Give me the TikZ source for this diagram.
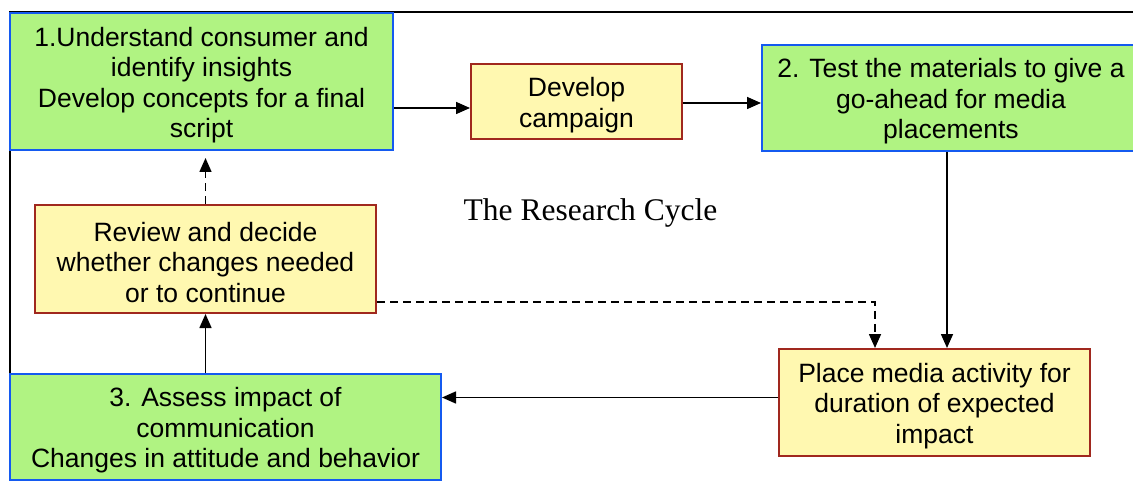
\documentclass[tikz,border=0pt]{standalone}
\usepackage{fontspec}
\setmainfont{Liberation Sans}
\newfontfamily\ttlfont{Liberation Serif}
\usetikzlibrary{arrows.meta}
\definecolor{gfill}{RGB}{176,243,130}
\definecolor{gdraw}{RGB}{20,90,240}
\definecolor{yfill}{RGB}{255,248,176}
\definecolor{ydraw}{RGB}{160,40,30}
\tikzset{
  boxtext/.style={yshift=-3.5pt, inner sep=0pt, align=center,
    font=\fontsize{26.5}{30.5}\selectfont},
  basebox/.style={line width=2pt, inner sep=0pt,
    label={[boxtext]center:{#1}}},
  gbox/.style={basebox={#1}, draw=gdraw, fill=gfill},
  ybox/.style={basebox={#1}, draw=ydraw, fill=yfill},
  arr/.style={line width=1.6pt, -{Triangle[length=14pt,width=12pt]}},
  dsh/.style={dash pattern=on 8pt off 5pt}
}
\begin{document}
\begin{tikzpicture}[x=1pt,y=-1pt]
\useasboundingbox (0,0) rectangle (1133,481);
\clip (0,0) rectangle (1133,481);
\fill[white] (0,0) rectangle (1133,481);
% frame
\draw[line width=1.5pt] (1150,12) -- (10,12) -- (10,500);
% nodes
\node[gbox={1.Understand consumer and\\identify insights\\Develop concepts for a final\\script},
  minimum width=383pt, minimum height=137pt] (b1) at (201.5,81.5) {};
\node[ybox={Develop\\campaign},
  minimum width=211pt, minimum height=75pt] (dev) at (576.5,101.5) {};
\node[gbox={2. Test the materials to give a\\go-ahead for media\\placements},
  minimum width=378pt, minimum height=106pt] (b2) at (951,98) {};
\node[ybox={Review and decide\\whether changes needed\\or to continue},
  minimum width=341pt, minimum height=108pt] (rev) at (205.5,259) {};
\node[gbox={3. Assess impact of\\communication\\Changes in attitude and behavior},
  minimum width=431pt, minimum height=106pt] (b3) at (225.5,427) {};
\node[ybox={Place media activity for\\duration of expected\\impact},
  minimum width=311pt, minimum height=107pt] (place) at (934.5,402.5) {};
\node[font=\ttlfont\fontsize{31.5}{36}\selectfont, anchor=base, inner sep=0pt] (ttl) at (590.5,221)
  {The Research Cycle};
% connectors
\draw[arr] ([yshift=-26.5pt]b1.east) -- ([yshift=-26.5pt]b1.east -| dev.west);
\draw[arr] ([yshift=-1.5pt]dev.east) -- ([yshift=-1.5pt]dev.east -| b2.west);
\draw[arr] ([xshift=-4pt]b2.south) -- ([xshift=-4pt]b2.south |- place.north);
\draw[arr,dsh] ([yshift=-43pt]rev.east) -| ([xshift=-59.5pt]place.north);
\draw[arr] ([yshift=5pt]place.west) -- ([yshift=5pt]place.west -| b3.east);
\draw[arr] (rev.south |- b3.north) -- (rev.south);
\draw[arr,dsh,shorten >=7pt] (rev.north) -- (rev.north |- b1.south);
\end{tikzpicture}
\end{document}
